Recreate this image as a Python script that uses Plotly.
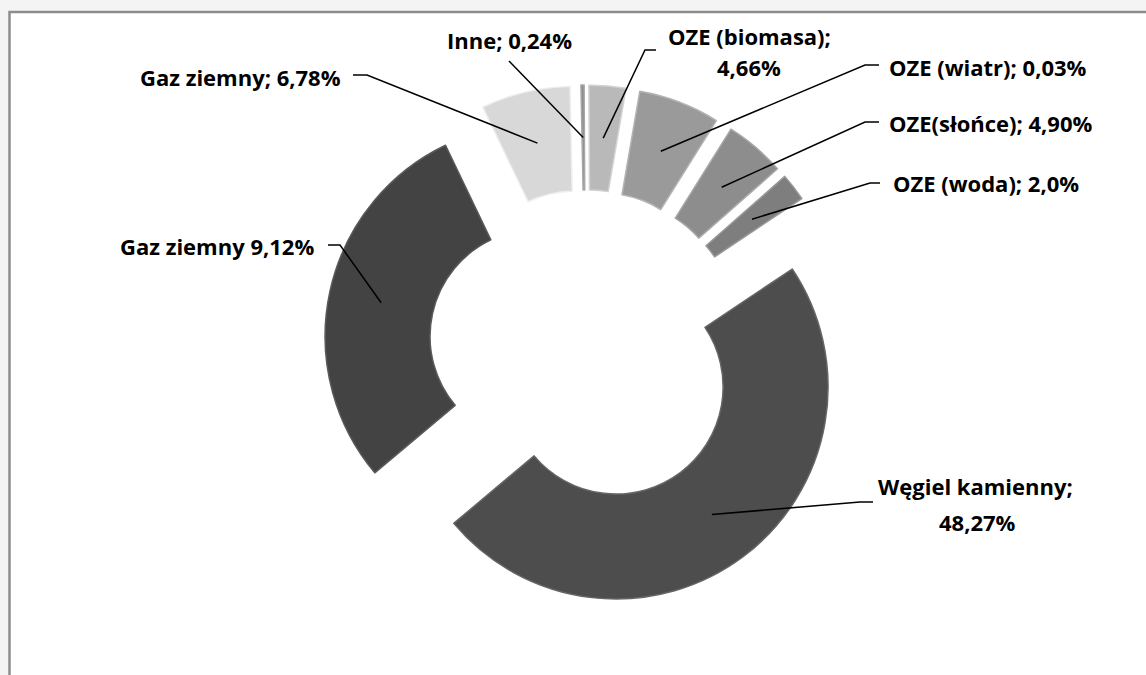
import math
import plotly.graph_objects as go

# ---------------- data ----------------
categories = ["Gaz ziemny (6,78%)", "Inne", "OZE (biomasa)", "OZE (wiatr)",
              "OZE (słońce)", "OZE (woda)", "Węgiel kamienny", "Gaz ziemny (9,12%)"]
shares = [6.78, 0.24, 2.8, 6.2, 4.6, 2.1, 48.27, 29.01]
label_line1 = ["Gaz ziemny; 6,78%", "Inne; 0,24%", "OZE (biomasa);", "OZE (wiatr); 0,03%",
               "OZE(słońce); 4,90%", "OZE (woda); 2,0%", "Węgiel kamienny;", "Gaz ziemny 9,12%"]
label_line2 = ["", "", "4,66%", "", "", "", "48,27%", ""]
colors = ["#d8d8d8", "#8a8a8a", "#b9b9b9", "#9a9a9a", "#8d8d8d", "#7e7e7e", "#4d4d4d", "#434343"]
edge_colors = ["#eeeeee", "#a8a8a8", "#d2d2d2", "#b4b4b4", "#a8a8a8", "#9a9a9a", "#666666", "#5a5a5a"]

# ---------------- layout constants (pixels) ----------------
W, H = 1146, 675
CX, CY = 586, 347
R = 212
PULL = 0.236
HOLE = 0.505
ROT = -25.6
half = R * (1 + PULL)

# label text placement: x, y, anchor ; second line x, y
text_pos = [(343, 77, "right"), (509, 40, "center"), (749, 36, "center"), (887, 67, "left"),
            (887, 123, "left"), (891, 183, "left"), (975, 486, "center"), (316, 246, "right")]
text2_pos = [None, None, (749, 67), None, None, None, (977, 522), None]
# leader elbow: start point (near text), bend point
elbows = [((353, 75), (367, 75)), ((509, 61), (509, 61)), ((656, 50), (645, 50)),
          ((879, 65), (865, 65)), ((879, 122), (865, 122)), ((880, 183), (870, 183)),
          ((873, 502), (860, 502)), ((328, 245), (340, 245))]


def px(x):
    return x / W


def py(y):
    return 1 - y / H


fig = go.Figure()
fig.add_trace(go.Pie(
    labels=categories, values=shares, sort=False, direction="clockwise",
    rotation=ROT, hole=HOLE, pull=[PULL] * len(shares),
    marker=dict(colors=colors, line=dict(color=edge_colors, width=1.5)),
    textinfo="none", hoverinfo="label+percent", showlegend=False,
    domain=dict(x=[px(CX - half), px(CX + half)], y=[py(CY + half), py(CY - half)]),
))

# leader lines computed from the slice geometry
total = sum(shares)
cum = 0.0
shapes = []
annotations = []
font = dict(family="Open Sans, Calibri, Arial", size=22, color="#000000", weight="bold")
for i, v in enumerate(shares):
    mid = math.radians(ROT + 360 * (cum + v / 2) / total)
    cum += v
    sx, sy = math.sin(mid), -math.cos(mid)
    rr = PULL * R + R * (1 + HOLE) / 2
    ex, ey = CX + rr * sx, CY + rr * sy
    (ax, ay), (bx, by) = elbows[i]
    path = f"M {px(ax)} {py(ay)} L {px(bx)} {py(by)} L {px(ex)} {py(ey)}"
    shapes.append(dict(type="path", xref="paper", yref="paper", path=path,
                       line=dict(color="#000000", width=1.5)))
    tx, ty, anc = text_pos[i]
    annotations.append(dict(x=px(tx), y=py(ty), xref="paper", yref="paper", text=label_line1[i],
                            showarrow=False, xanchor=anc, yanchor="middle", font=font))
    if text2_pos[i]:
        t2x, t2y = text2_pos[i]
        annotations.append(dict(x=px(t2x), y=py(t2y), xref="paper", yref="paper",
                                text=label_line2[i],
                                showarrow=False, xanchor="center", yanchor="middle", font=font))

# chart frame
shapes.insert(0, dict(type="rect", xref="paper", yref="paper", layer="below",
                      x0=px(9.5), x1=1.02, y0=-0.02, y1=py(12),
                      fillcolor="#ffffff", line=dict(color="#8c8c8c", width=2.5)))

fig.update_layout(
    width=W, height=H, margin=dict(l=0, r=0, t=0, b=0),
    paper_bgcolor="#f4f4f4", plot_bgcolor="#ffffff",
    shapes=shapes, annotations=annotations,
)
fig.write_html("out.html", config={"displayModeBar": False},
               post_script="document.body.style.margin='0';document.body.style.background='#f4f4f4';")
